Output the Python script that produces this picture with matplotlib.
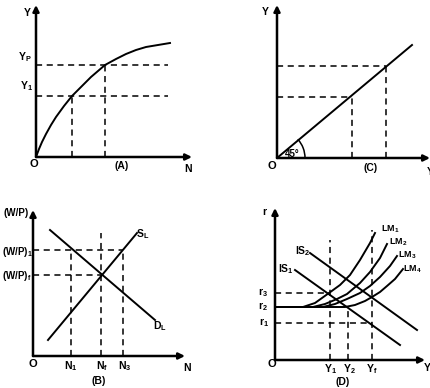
import matplotlib
matplotlib.use("Agg")
import matplotlib.pyplot as plt
from matplotlib.patches import Arc

plt.rcParams['font.family'] = ['Liberation Sans', 'DejaVu Sans']
plt.rcParams['font.weight'] = 'bold'
plt.rcParams['mathtext.fontset'] = 'custom'
plt.rcParams['mathtext.rm'] = 'Liberation Sans:bold'
plt.rcParams['mathtext.it'] = 'Liberation Sans:bold'
plt.rcParams['mathtext.bf'] = 'Liberation Sans:bold'

# ---- panel A: production function (N, Y) ----
prod_N = [0, 3, 6, 10, 15, 20, 28, 36, 45, 55, 69, 80, 90, 100, 110, 122, 134]
prod_Y = [0, 8, 15, 23, 32, 40, 51, 61, 70, 80, 92, 98, 103, 107, 110, 112, 114]
a_N = [36, 69]
a_Y = [61, 92]

# ---- panel C: 45 degree line ----
c_x = [0, 75, 109, 135]
c_y = [0, 61, 92, 113]

# ---- panel B: labour market ----
sl_N = [15, 104]
sl_W = [16, 123]
dl_N = [17, 122]
dl_W = [126, 36]
b_N = [38, 68, 90]          # N1, Nf, N3
wp_1, wp_f = 106, 81
nf_top = 123

# ---- panel D: IS-LM ----
is1_Y = [20, 125]
is1_r = [90, 15]
is2_Y = [35, 142]
is2_r = [107, 30]
lm_curves = [
    ([0, 28, 40, 54, 65, 75, 85, 95, 100], [53, 53, 57, 67, 75, 85, 100, 117, 127]),
    ([0, 38, 50, 62, 72, 85, 95, 105, 112], [53, 53, 56, 61, 66, 77, 88, 102, 116]),
    ([0, 48, 60, 72, 85, 95, 105, 115, 122], [53, 53, 56, 61, 67, 74, 83, 94, 104]),
    ([0, 70, 80, 90, 97, 105, 112, 120, 128], [53, 53, 55, 59, 63, 68, 74, 81, 91]),
]
r1, r2, r3 = 37, 53, 67
d_Y1, d_Y2, d_Yf = 55, 73, 97
y1_top, yf_top = 120, 130

W, H = 431, 388
fig = plt.figure(figsize=(W / 100, H / 100), dpi=100)

DASH = dict(color='k', lw=1.1, ls=(0, (4, 3)))
CURVE = dict(color='k', lw=1.4)


def panel(ox, oy, w, h):
    ax = fig.add_axes([ox / W, (H - oy) / H, w / W, h / H])
    ax.set_xlim(0, w)
    ax.set_ylim(0, h)
    ax.axis('off')
    arrow = dict(arrowstyle='-|>', lw=1.8, color='k', mutation_scale=9,
                 shrinkA=0, shrinkB=0)
    ax.annotate('', xy=(0, h), xytext=(0, 0), arrowprops=arrow, annotation_clip=False)
    ax.annotate('', xy=(w, 0), xytext=(0, 0), arrowprops=arrow, annotation_clip=False)
    return ax


def label(x, y, s, size=7.5, **kw):
    fig.text(x / W, 1 - y / H, s, ha='center', va='center', fontsize=size,
             fontweight='bold', **kw)


# panel A
ax = panel(36, 157, 156, 152)
ax.plot(prod_N, prod_Y, **CURVE)
for n, y in zip(a_N, a_Y):
    ax.plot([0, 132], [y, y], **DASH)
    ax.plot([n, n], [0, y], **DASH)

# panel C
ax = panel(277, 158, 153, 153)
ax.plot([c_x[0], c_x[-1]], [c_y[0], c_y[-1]], **CURVE)
for x, y in zip(c_x[1:3], c_y[1:3]):
    ax.plot([0, x], [y, y], **DASH)
    ax.plot([x, x], [0, y], **DASH)
ax.add_patch(Arc((0, 0), 56, 56, theta1=0, theta2=42, color='k', lw=1.1))

# panel B
ax = panel(33, 356, 152, 146)
ax.plot(sl_N, sl_W, **CURVE)
ax.plot(dl_N, dl_W, **CURVE)
ax.plot([0, b_N[2]], [wp_1, wp_1], **DASH)
ax.plot([0, b_N[1]], [wp_f, wp_f], **DASH)
ax.plot([b_N[0], b_N[0]], [0, wp_1], **DASH)
ax.plot([b_N[2], b_N[2]], [0, wp_1], **DASH)
ax.plot([b_N[1], b_N[1]], [0, nf_top], **DASH)

# panel D
ax = panel(275, 360, 150, 152)
ax.plot(is1_Y, is1_r, **CURVE)
ax.plot(is2_Y, is2_r, **CURVE)
for yv, rv in lm_curves:
    ax.plot(yv, rv, **CURVE)
ax.plot([0, d_Y1], [r3, r3], **DASH)
ax.plot([0, d_Yf], [r1, r1], **DASH)
ax.plot([d_Y1, d_Y1], [0, y1_top], **DASH)
ax.plot([d_Y2, d_Y2], [0, r2], **DASH)
ax.plot([d_Yf, d_Yf], [0, yf_top], **DASH)

# labels panel A
label(27, 13, 'Y')
label(25, 57, 'Y$_P$')
label(26, 86, 'Y$_1$')
label(34, 164, 'O', 8)
label(122, 166, '(A)')
label(188, 169, 'N')

# labels panel C
label(265, 12, 'Y')
label(272, 166, 'O', 8)
label(371, 168, '(C)')
label(430, 172, 'Y')
label(292, 154, '45°', 7)

# labels panel B
label(16, 213, '(W/P)', 7)
label(17, 252, '(W/P)$_1$', 7)
label(17, 276, '(W/P)$_f$', 7)
label(143, 234, 'S$_L$')
label(160, 326, 'D$_L$')
label(33, 364, 'O', 8)
label(71, 366, 'N$_1$')
label(102, 366, 'N$_f$')
label(125, 366, 'N$_3$')
label(187, 368, 'N')
label(99, 381, '(B)')

# labels panel D
label(264, 212, 'r')
label(263, 293, 'r$_3$')
label(263, 307, 'r$_2$')
label(264, 323, 'r$_1$')
label(303, 251, 'IS$_2$')
label(286, 269, 'IS$_1$')
label(390, 229, 'LM$_1$', 6.5)
label(398, 242, 'LM$_2$', 6.5)
label(407, 255, 'LM$_3$', 6.5)
label(412, 269, 'LM$_4$', 6.5)
label(272, 364, 'O', 8)
label(330, 369, 'Y$_1$')
label(349, 369, 'Y$_2$')
label(372, 369, 'Y$_f$')
label(343, 382, '(D)')
label(427, 368, 'Y')

fig.savefig('out.png', dpi=100)
